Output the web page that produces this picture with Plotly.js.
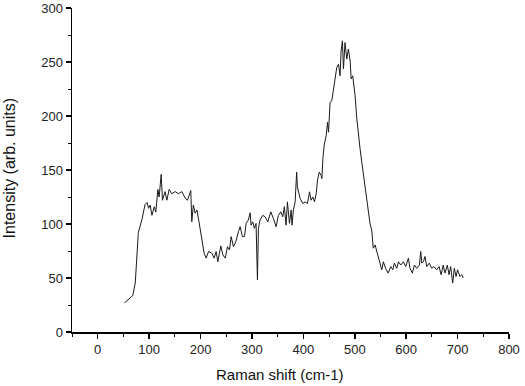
<!DOCTYPE html>
<html>
<head>
<meta charset="utf-8">
<script src="https://cdn.plot.ly/plotly-3.0.1.min.js"></script>
<style>html,body{margin:0;padding:0;background:#fff;}#chart{width:525px;height:386px;}</style>
</head>
<body>
<div id="chart"></div>
<script>
const ramanShift = [52,68,73,76,79,86,92,96,99,102,105.5,110,113,117,119.5,123.5,126,131,134.5,139,144,150.7,157,163.7,170,174.6,181,183,186,189.5,193,197,202.6,207,211,215.5,222,226.5,230.4,233.6,239.5,243.4,248,252.4,256.3,259.6,264,268.7,273.8,277,281.5,285.4,288.7,293,296.5,298.4,301.6,304.8,308,310.7,312.6,315.8,321,325.6,330.9,336.7,341.8,347,351.5,356.2,360,363,366.4,369,373,376.2,378,380.6,384,387,388.4,393.7,398.9,403.4,408,412,415,418.5,421.7,425,427.5,431,434.5,436,438,440.5,444.5,447,449,452,455.3,458.6,462,465,468.4,471.4,473.4,476,478,481,484.5,487.6,491,493,496,500.6,504,507,510.3,513.6,518,523.5,526.6,529.8,533,536,539.5,542.8,549,552.5,555.6,560,565,570,574,577,581.7,585,589.5,594.6,599.2,604.3,607.5,612,616,620.5,625.7,628.4,630.3,633.5,636.7,640,645,649.7,654,659.4,664,668,672,675.5,680,683.4,686.6,690.5,693.6,697,700,704.7,708,711];
const intensity = [27,33.6,45,70,92,104,118,120,114.5,117.5,108,116,111,132,125,146,122,130,122,132,128,130,128,130,124,122,131,102,117.5,110,113,102,87,73,68.4,74.5,73,68.4,74.5,65,79.7,71.4,68.4,79,76,88.3,79,83.7,93,97.5,88.3,88.3,100.6,103.7,110.4,99,102,96,100.6,48.4,96,103.7,108,106.7,102,111.3,105,97.5,108,111.3,106.7,116,99,120.5,100.6,113,99,113,120.5,148,134.4,123.7,119,120.5,119,129.8,122,125,120.5,128,140.6,148,145,142,160.5,172.8,182,194.3,185,212.7,214,225,237.3,245,248,237.3,260,269.6,243.5,268,252.7,262,251,234.3,237.3,219,197.4,182,169.8,157.4,142,123.7,111.3,100,94.5,77.6,80.6,74.5,65,57.6,65,59,54.5,60.6,57.6,63.8,59,65,62,65,60.6,68.4,59,54.5,62,59,62,74.5,63.8,65,70,60.6,63.8,59,60.6,57.6,60.6,53,62,54.5,62,53,60.6,45.3,59,51.4,57.6,51.4,53,50];
const xTitle = "Raman shift (cm-1)";
const yTitle = "Intensity (arb. units)";

const fam = "Liberation Sans, Arial, sans-serif";
const axisFont = {family: fam, size: 13, color: "#222"};
Plotly.newPlot("chart", [{
  x: ramanShift, y: intensity, type: "scatter", mode: "lines",
  line: {color: "#1a1a1a", width: 1}, hoverinfo: "skip"
}], {
  width: 525, height: 386,
  margin: {l: 72, r: 16, t: 8, b: 54},
  paper_bgcolor: "#fff", plot_bgcolor: "#fff",
  showlegend: false,
  xaxis: {
    range: [-50, 800], tick0: 0, dtick: 100, showgrid: false, zeroline: false,
    showline: true, linecolor: "#000", linewidth: 1.5,
    ticks: "outside", ticklen: 5, tickwidth: 1.5, tickcolor: "#000",
    minor: {dtick: 50, tick0: 0, ticks: "outside", ticklen: 3, tickwidth: 1, tickcolor: "#000"},
    tickfont: axisFont, ticklabeloverflow: "allow"
  },
  yaxis: {
    range: [0, 300], dtick: 50, showgrid: false, zeroline: false,
    showline: true, linecolor: "#000", linewidth: 1.5,
    ticks: "outside", ticklen: 5, tickwidth: 1.5, tickcolor: "#000",
    minor: {dtick: 25, ticks: "outside", ticklen: 3, tickwidth: 1, tickcolor: "#000"},
    tickfont: axisFont, ticklabeloverflow: "allow"
  },
  annotations: [
    {text: xTitle, xref: "paper", yref: "paper", x: 0.476, y: -0.132, xanchor: "center", yanchor: "middle",
     showarrow: false, font: {family: fam, size: 15, color: "#111"}},
    {text: yTitle, xref: "paper", yref: "paper", x: -0.144, y: 0.505, xanchor: "center", yanchor: "middle",
     textangle: -90, showarrow: false, font: {family: fam, size: 16, color: "#111"}}
  ]
}, {displayModeBar: false, staticPlot: true});
</script>
</body>
</html>
